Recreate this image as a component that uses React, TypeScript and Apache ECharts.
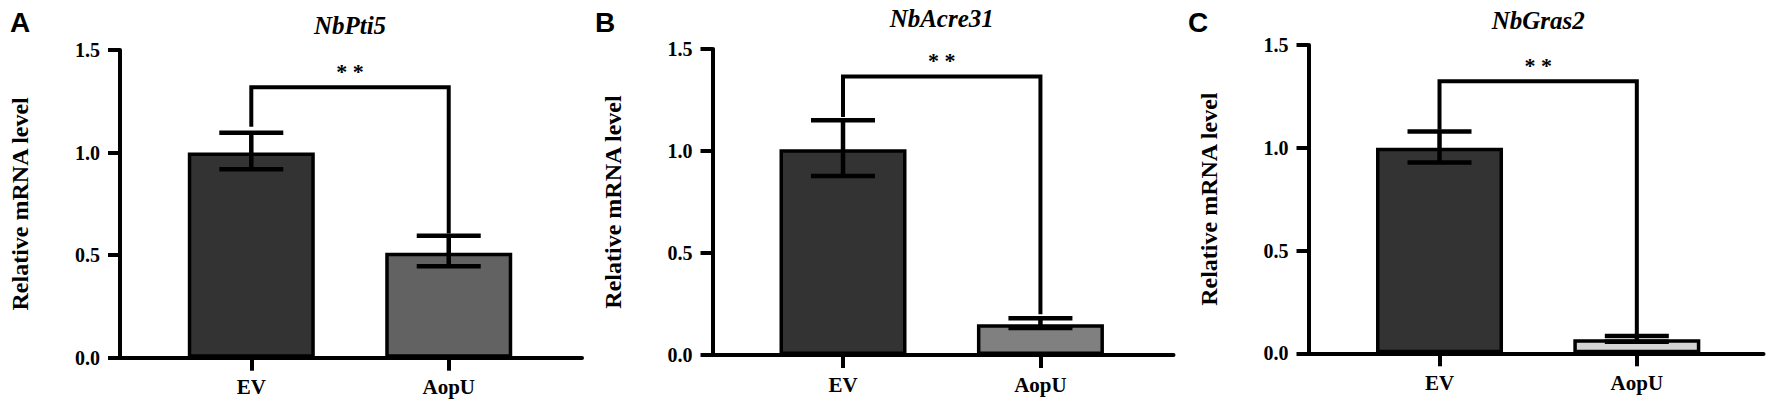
import React, { useEffect, useRef } from 'react';
import * as echarts from 'echarts';

// ---------- data ----------
const categories = ['EV', 'AopU'];
const categoryPositions = [1, 2];
const panelLetters = ['A', 'B', 'C'];
const geneNames = ['NbPti5', 'NbAcre31', 'NbGras2'];
const yTickLabels = ['0.0', '0.5', '1.0', '1.5'];
const yAxisTitle = 'Relative mRNA level';
const significance = ['* *', '* *', '* *'];

const meanPti5 = [1.0, 0.512];
const lowPti5 = [0.919, 0.446];
const highPti5 = [1.096, 0.595];

const meanAcre31 = [1.008, 0.151];
const lowAcre31 = [0.878, 0.132];
const highAcre31 = [1.151, 0.18];

const meanGras2 = [1.0, 0.068];
const lowGras2 = [0.928, 0.056];
const highGras2 = [1.079, 0.084];

// [left leg bottom, bracket top, right leg bottom]
const bracketPti5 = [1.126, 1.318, 0.605];
const bracketAcre31 = [1.167, 1.365, 0.2];
const bracketGras2 = [1.088, 1.324, 0.088];

const means = [meanPti5, meanAcre31, meanGras2];
const lows = [lowPti5, lowAcre31, lowGras2];
const highs = [highPti5, highAcre31, highGras2];
const brackets = [bracketPti5, bracketAcre31, bracketGras2];

// ---------- styles / layout ----------
const barColors = [
  ['#333333', '#626262'],
  ['#333333', '#808080'],
  ['#333333', '#d4d4d4'],
];
const SERIF = '"Liberation Serif", "Times New Roman", serif';
const SANS = '"Liberation Sans", Arial, sans-serif';

const layouts = [
  { left: 120, top: 50, width: 462, height: 307.7, xMin: 0.335, xMax: 2.675, letterX: 10, titleY: 25 },
  { left: 712.5, top: 49, width: 461, height: 306, xMin: 0.339, xMax: 2.674, letterX: 595, titleY: 18 },
  { left: 1308.5, top: 45, width: 455, height: 308.3, xMin: 0.336, xMax: 2.642, letterX: 1188, titleY: 20 },
];

const LINE_W = 4;

function buildOption() {
  const grid: any[] = [];
  const xAxis: any[] = [];
  const yAxis: any[] = [];
  const series: any[] = [];
  const graphic: any[] = [];

  layouts.forEach((L, i) => {
    grid.push({ left: L.left, top: L.top, width: L.width, height: L.height, containLabel: false });

    xAxis.push({
      type: 'value',
      gridIndex: i,
      min: L.xMin,
      max: L.xMax,
      splitLine: { show: false },
      axisLine: { show: true, onZero: false, lineStyle: { color: '#000', width: LINE_W } },
      axisTick: { show: true, customValues: categoryPositions, length: 13, lineStyle: { color: '#000', width: LINE_W } },
      axisLabel: {
        customValues: categoryPositions,
        formatter: (v: number) => categories[Math.round(v) - 1] ?? '',
        fontFamily: SERIF,
        fontWeight: 'bold',
        fontSize: 21,
        color: '#000',
        margin: 19,
      },
    });

    yAxis.push({
      type: 'value',
      gridIndex: i,
      min: 0,
      max: 1.5,
      interval: 0.5,
      splitLine: { show: false },
      axisLine: { show: true, onZero: false, lineStyle: { color: '#000', width: LINE_W } },
      axisTick: { show: true, length: 12, lineStyle: { color: '#000', width: LINE_W } },
      axisLabel: {
        formatter: (v: number) => yTickLabels[Math.round(v / 0.5)] ?? '',
        fontFamily: SERIF,
        fontWeight: 'bold',
        fontSize: 20,
        color: '#000',
        margin: 20,
      },
      name: yAxisTitle,
      nameLocation: 'middle',
      nameGap: 88,
      nameTextStyle: { fontFamily: SERIF, fontWeight: 'bold', fontSize: 24, color: '#000' },
    });

    series.push({
      type: 'bar',
      xAxisIndex: i,
      yAxisIndex: i,
      barWidth: 127,
      data: means[i].map((v, j) => ({
        value: [categoryPositions[j], v],
        itemStyle: { color: barColors[i][j] },
      })),
      itemStyle: { borderColor: '#000', borderWidth: 3.5 },
      z: 2,
    });

    series.push({
      type: 'custom',
      xAxisIndex: i,
      yAxisIndex: i,
      z: 5,
      encode: { x: 0, y: [1, 2] },
      data: categoryPositions.map((x, j) => [x, lows[i][j], highs[i][j]]),
      renderItem: (params: any, api: any) => {
        const x = api.value(0);
        const pLo = api.coord([x, api.value(1)]);
        const pHi = api.coord([x, api.value(2)]);
        const half = 32;
        const style = { stroke: '#000', lineWidth: 4.5, fill: null };
        return {
          type: 'group',
          children: [
            { type: 'line', shape: { x1: pLo[0], y1: pLo[1], x2: pHi[0], y2: pHi[1] }, style },
            { type: 'line', shape: { x1: pLo[0] - half, y1: pLo[1], x2: pLo[0] + half, y2: pLo[1] }, style },
            { type: 'line', shape: { x1: pHi[0] - half, y1: pHi[1], x2: pHi[0] + half, y2: pHi[1] }, style },
          ],
        };
      },
    });

    const b = brackets[i];
    series.push({
      type: 'custom',
      xAxisIndex: i,
      yAxisIndex: i,
      z: 6,
      encode: { x: [0, 1], y: [2, 3, 4] },
      data: [[categoryPositions[0], categoryPositions[1], b[0], b[1], b[2]]],
      renderItem: (params: any, api: any) => {
        const x1 = api.value(0);
        const x2 = api.value(1);
        const p1 = api.coord([x1, api.value(2)]);
        const p2 = api.coord([x1, api.value(3)]);
        const p3 = api.coord([x2, api.value(3)]);
        const p4 = api.coord([x2, api.value(4)]);
        const mid = api.coord([(x1 + x2) / 2, api.value(3)]);
        return {
          type: 'group',
          children: [
            {
              type: 'polyline',
              shape: { points: [p1, p2, p3, p4] },
              style: { stroke: '#000', lineWidth: LINE_W, fill: null, lineJoin: 'miter' },
            },
            {
              type: 'text',
              x: mid[0],
              y: mid[1] - 5,
              style: {
                text: significance[i],
                fontFamily: SERIF,
                fontWeight: 'bold',
                fontSize: 22,
                fill: '#000',
                align: 'center',
                verticalAlign: 'bottom',
              },
            },
          ],
        };
      },
    });

    graphic.push({
      type: 'text',
      left: L.letterX,
      top: 8,
      style: { text: panelLetters[i], font: `bold 28px ${SANS}`, fill: '#000' },
    });
    graphic.push({
      type: 'text',
      x: L.left + (L.width * (1.5 - L.xMin)) / (L.xMax - L.xMin),
      y: L.titleY,
      style: {
        text: geneNames[i],
        font: `italic bold 25px ${SERIF}`,
        fill: '#000',
        align: 'center',
        verticalAlign: 'middle',
      },
    });
  });

  return {
    animation: false,
    backgroundColor: '#ffffff',
    grid,
    xAxis,
    yAxis,
    series,
    graphic,
  };
}

export default function App() {
  const ref = useRef<HTMLDivElement>(null);
  useEffect(() => {
    if (!ref.current) return;
    const chart = echarts.init(ref.current, undefined, { renderer: 'svg' });
    chart.setOption(buildOption() as any);
    return () => chart.dispose();
  }, []);
  return (
    <div
      ref={ref}
      style={{ position: 'fixed', left: 0, top: 0, width: 1772, height: 411, background: '#fff' }}
    />
  );
}
